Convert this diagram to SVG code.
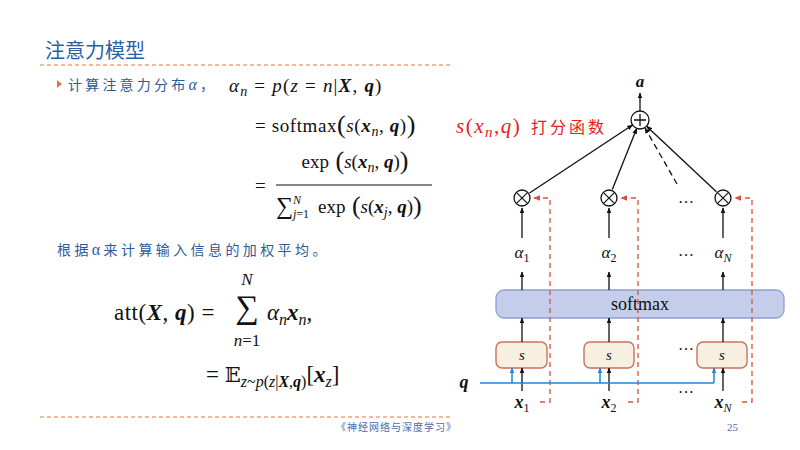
<svg xmlns="http://www.w3.org/2000/svg" width="800" height="450" viewBox="0 0 800 450">
<style>
.m{font-family:"Liberation Serif","DejaVu Serif",serif;fill:#111}
.i{font-style:italic}
.bi{font-style:italic;font-weight:bold}
.cn{font-family:"Noto Sans CJK SC",sans-serif;fill:#2f5a98}
.blk{stroke:#111;stroke-width:1.3;fill:none}
.red{stroke:#d9503a;stroke-width:1.3;fill:none;stroke-dasharray:5,4}
.blue{stroke:#1f86d6;stroke-width:1.5;fill:none}
.sbox{fill:#f7f0e1;stroke:#c9725a;stroke-width:1.4}
.dots{font-family:"Liberation Serif",serif;font-size:16px;fill:#111;text-anchor:middle}
</style>
<defs>
<marker id="ab" viewBox="0 0 10 10" refX="9" refY="5" markerWidth="6" markerHeight="6" markerUnits="userSpaceOnUse" orient="auto"><path d="M0,1 L10,5 L0,9 Z" fill="#111"/></marker>
<marker id="ar" viewBox="0 0 10 10" refX="9" refY="5" markerWidth="7" markerHeight="7" markerUnits="userSpaceOnUse" orient="auto"><path d="M0,1 L10,5 L0,9 Z" fill="#d9503a"/></marker>
<marker id="abl" viewBox="0 0 10 10" refX="9" refY="5" markerWidth="6" markerHeight="6" markerUnits="userSpaceOnUse" orient="auto"><path d="M0,1 L10,5 L0,9 Z" fill="#1f86d6"/></marker>
</defs>
<rect width="800" height="450" fill="#fff"/>

<g id="header">
<text x="45" y="58" font-family="Noto Sans CJK SC,sans-serif" font-size="20" fill="#2a5fa6">注意力模型</text>
<line x1="40" y1="65" x2="452" y2="65" stroke="#e0783a" stroke-width="1.2" stroke-dasharray="4,3"/>
</g>
<g id="footer">
<line x1="40" y1="417" x2="452" y2="417" stroke="#e0783a" stroke-width="1.2" stroke-dasharray="4,3"/>
<text x="336" y="431" font-family="Noto Sans CJK SC,sans-serif" font-size="10" letter-spacing="1" fill="#4a6aa8">《神经网络与深度学习》</text>
<text x="727" y="431" font-family="Liberation Serif,serif" font-size="11" fill="#4a6aa8">25</text>
</g>

<g id="formula1">
<path d="M57,80 L62,84 L57,88 Z" fill="#e0783a"/>
<text x="68" y="90" class="cn" font-size="14" letter-spacing="3.2">计算注意力分布<tspan font-family="Liberation Serif,serif" font-style="italic" font-size="16">α</tspan>，</text>
<text x="229" y="92" class="m" font-size="19" letter-spacing="1.2"><tspan class="i">α</tspan><tspan class="i" font-size="14" dy="4">n</tspan><tspan dy="-4"> = </tspan><tspan class="i">p</tspan>(<tspan class="i">z</tspan> = <tspan class="i">n</tspan>|<tspan class="bi">X</tspan>, <tspan class="bi">q</tspan>)</text>
<text x="255" y="132" class="m" font-size="19" letter-spacing="0.6">= softmax<tspan font-size="26" dy="1">(</tspan><tspan class="i" dy="-1">s</tspan>(<tspan class="bi">x</tspan><tspan class="i" font-size="14" dy="4">n</tspan><tspan dy="-4">, </tspan><tspan class="bi">q</tspan>)<tspan font-size="26" dy="1">)</tspan></text>
<text x="255" y="192" class="m" font-size="19">=</text>
<text x="355" y="168" class="m" font-size="19" text-anchor="middle">exp<tspan font-size="26" dy="1"> (</tspan><tspan class="i" dy="-1">s</tspan>(<tspan class="bi">x</tspan><tspan class="i" font-size="14" dy="4">n</tspan><tspan dy="-4">, </tspan><tspan class="bi">q</tspan>)<tspan font-size="26" dy="1">)</tspan></text>
<line x1="276" y1="185" x2="432" y2="185" stroke="#111" stroke-width="1"/>
<text x="276" y="214" class="m" font-size="24">∑</text>
<text x="293" y="204" class="m i" font-size="12">N</text>
<text x="293" y="218" class="m" font-size="12"><tspan class="i">j</tspan>=1</text>
<text x="318" y="213" class="m" font-size="19">exp<tspan font-size="26" dy="1"> (</tspan><tspan class="i" dy="-1">s</tspan>(<tspan class="bi">x</tspan><tspan class="i" font-size="14" dy="4">j</tspan><tspan dy="-4">, </tspan><tspan class="bi">q</tspan>)<tspan font-size="26" dy="1">)</tspan></text>
</g>
<g id="formula2">
<text x="57" y="255" class="cn" font-size="14" letter-spacing="3.4">根据<tspan font-family="Liberation Serif,serif" font-size="16">α</tspan>来计算输入信息的加权平均。</text>
<text x="114" y="320" class="m" font-size="23" letter-spacing="0.5">att(<tspan class="bi">X</tspan>, <tspan class="bi">q</tspan>) =</text>
<text x="247" y="318" class="m" font-size="33" text-anchor="middle">∑</text>
<text x="247" y="285" class="m i" font-size="17" text-anchor="middle">N</text>
<text x="247" y="346" class="m" font-size="17" text-anchor="middle"><tspan class="i">n</tspan>=1</text>
<text x="267" y="320" class="m" font-size="23"><tspan class="i">α</tspan><tspan class="i" font-size="16" dy="5">n</tspan><tspan class="bi" dy="-5">x</tspan><tspan class="i" font-size="16" dy="5">n</tspan><tspan dy="-5">,</tspan></text>
<text x="206" y="382" class="m" font-size="23">= <tspan font-family="DejaVu Serif,serif" font-size="21">𝔼</tspan><tspan font-size="16" dy="5"><tspan class="i">z</tspan>~<tspan class="i">p</tspan>(<tspan class="i">z</tspan>|<tspan class="bi">X</tspan>,<tspan class="bi">q</tspan>)</tspan><tspan dy="-5">[</tspan><tspan class="bi">x</tspan><tspan class="i" font-size="16" dy="5">z</tspan><tspan dy="-5">]</tspan></text>
</g>

<g id="label-score">
<text x="456" y="133" class="m" font-size="21" letter-spacing="1.5" style="fill:#e8201c"><tspan class="i">s</tspan>(<tspan class="i">x</tspan><tspan class="i" font-size="15" dy="4">n</tspan><tspan dy="-4">,</tspan><tspan class="i">q</tspan>)</text>
<text x="531" y="133" font-family="Noto Sans CJK SC,sans-serif" font-size="16" letter-spacing="3" fill="#e8201c">打分函数</text>
</g>
<g id="softmax">
<rect x="496" y="290" width="288" height="28" rx="8" fill="#c4cdea" stroke="#8e9fd4" stroke-width="1.3"/>
<text x="640" y="310" class="m" font-size="18" text-anchor="middle">softmax</text>
</g>
<g id="s1"><rect x="496" y="342" width="51" height="26" rx="6" class="sbox"/><text x="522" y="360" class="m i" font-size="15" text-anchor="middle">s</text></g>
<g id="s2"><rect x="584" y="342" width="50" height="26" rx="6" class="sbox"/><text x="609" y="360" class="m i" font-size="15" text-anchor="middle">s</text></g>
<g id="sN"><rect x="697" y="342" width="50" height="26" rx="6" class="sbox"/><text x="722" y="360" class="m i" font-size="15" text-anchor="middle">s</text></g>

<g id="connectors">
<path d="M540,402 H550 V198 H534" class="red" marker-end="url(#ar)"/>
<path d="M628,402 H638 V198 H621" class="red" marker-end="url(#ar)"/>
<path d="M742,402 H752 V198 H735" class="red" marker-end="url(#ar)"/>
<line x1="529.5" y1="193" x2="632.5" y2="125" class="blk" marker-end="url(#ab)"/>
<line x1="612.3" y1="189.6" x2="636.7" y2="128.4" class="blk" marker-end="url(#ab)"/>
<line x1="716.4" y1="191.8" x2="646.6" y2="126.2" class="blk" marker-end="url(#ab)"/>
<line x1="677" y1="184" x2="645" y2="128" class="blk" stroke-dasharray="6,4" marker-end="url(#ab)"/>
<line x1="640" y1="111" x2="640" y2="93" class="blk" marker-end="url(#ab)"/>
<line x1="522" y1="238" x2="522" y2="208" class="blk" marker-end="url(#ab)"/>
<line x1="609" y1="238" x2="609" y2="208" class="blk" marker-end="url(#ab)"/>
<line x1="723" y1="238" x2="723" y2="208" class="blk" marker-end="url(#ab)"/>
<line x1="522" y1="290" x2="522" y2="272" class="blk" marker-end="url(#ab)"/>
<line x1="609" y1="290" x2="609" y2="272" class="blk" marker-end="url(#ab)"/>
<line x1="723" y1="290" x2="723" y2="272" class="blk" marker-end="url(#ab)"/>
<line x1="522" y1="342" x2="522" y2="318" class="blk" stroke-width="1.6" marker-end="url(#ab)"/>
<line x1="609" y1="342" x2="609" y2="318" class="blk" stroke-width="1.6" marker-end="url(#ab)"/>
<line x1="723" y1="342" x2="723" y2="318" class="blk" stroke-width="1.6" marker-end="url(#ab)"/>
<line x1="522" y1="391" x2="522" y2="368" class="blk" stroke-width="1.6" marker-end="url(#ab)"/>
<line x1="609" y1="391" x2="609" y2="368" class="blk" stroke-width="1.6" marker-end="url(#ab)"/>
<line x1="723" y1="391" x2="723" y2="368" class="blk" stroke-width="1.6" marker-end="url(#ab)"/>
<line x1="480" y1="383" x2="714" y2="383" class="blue"/>
<line x1="512" y1="383" x2="512" y2="368" class="blue" stroke-width="1.2" marker-end="url(#abl)"/>
<line x1="600" y1="383" x2="600" y2="368" class="blue" stroke-width="1.2" marker-end="url(#abl)"/>
<line x1="714" y1="383" x2="714" y2="368" class="blue" stroke-width="1.2" marker-end="url(#abl)"/>
</g>

<g id="sum">
<circle cx="640" cy="120" r="9" fill="#fff" stroke="#111" stroke-width="1.3"/>
<path d="M640,114 V126 M634,120 H646" stroke="#111" stroke-width="1.3"/>
<text x="640" y="87" class="m bi" font-size="17" text-anchor="middle">a</text>
</g>
<g id="mul1"><circle cx="522" cy="198" r="8" fill="#fff" stroke="#111" stroke-width="1.3"/><path d="M516.3,192.3 L527.7,203.7 M527.7,192.3 L516.3,203.7" stroke="#111" stroke-width="1.2"/></g>
<g id="mul2"><circle cx="609" cy="198" r="8" fill="#fff" stroke="#111" stroke-width="1.3"/><path d="M603.3,192.3 L614.7,203.7 M614.7,192.3 L603.3,203.7" stroke="#111" stroke-width="1.2"/></g>
<g id="mulN"><circle cx="723" cy="198" r="8" fill="#fff" stroke="#111" stroke-width="1.3"/><path d="M717.3,192.3 L728.7,203.7 M728.7,192.3 L717.3,203.7" stroke="#111" stroke-width="1.2"/></g>

<g id="alpha">
<text x="522" y="258" class="m" font-size="17" text-anchor="middle"><tspan class="i">α</tspan><tspan font-size="12" dy="4">1</tspan></text>
<text x="609" y="258" class="m" font-size="17" text-anchor="middle"><tspan class="i">α</tspan><tspan font-size="12" dy="4">2</tspan></text>
<text x="723" y="258" class="m" font-size="17" text-anchor="middle"><tspan class="i">α</tspan><tspan class="i" font-size="12" dy="4">N</tspan></text>
</g>
<g id="inputs">
<text x="464" y="388" class="m bi" font-size="18" text-anchor="middle">q</text>
<text x="522" y="408" class="m" font-size="18" text-anchor="middle"><tspan class="bi">x</tspan><tspan font-size="12" dy="4">1</tspan></text>
<text x="609" y="408" class="m" font-size="18" text-anchor="middle"><tspan class="bi">x</tspan><tspan font-size="12" dy="4">2</tspan></text>
<text x="723" y="408" class="m" font-size="18" text-anchor="middle"><tspan class="bi">x</tspan><tspan class="i" font-size="12" dy="4">N</tspan></text>
</g>
<g id="ellipses">
<text x="686" y="203" class="dots">…</text>
<text x="686" y="256" class="dots">…</text>
<text x="686" y="350" class="dots">…</text>
<text x="686" y="393" class="dots">…</text>
</g>
</svg>
